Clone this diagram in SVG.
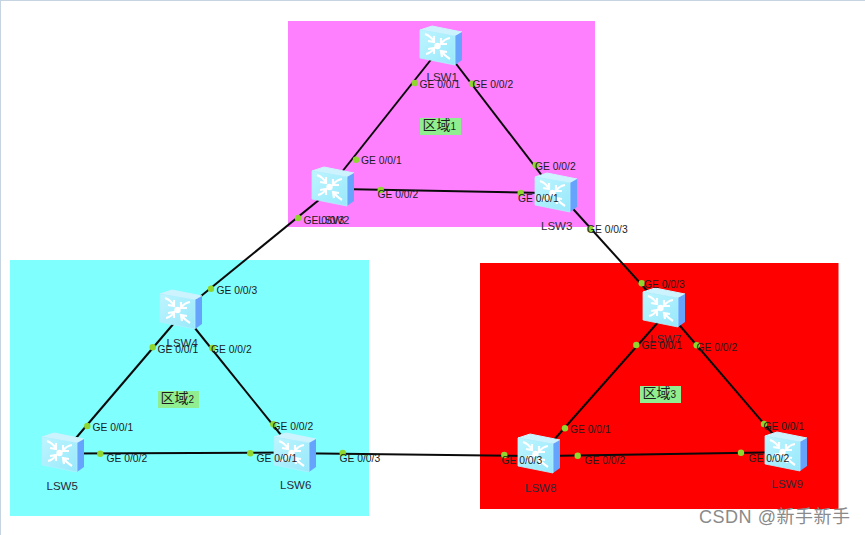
<svg xmlns="http://www.w3.org/2000/svg" width="865" height="535" viewBox="0 0 865 535">
<style>
.bg{stroke:none}
.ln{stroke:#0a0a0a;stroke-width:2;fill:none}
.pt{fill:#8fd62e;stroke:none}
text{font-family:"Liberation Sans",Arial,"Noto Sans CJK SC",sans-serif;fill:#1c1c1c}
.pl{font-size:10.300px}
.nm{font-size:11.500px;fill:#2a2a3a}
.tag{fill:#90ee90}
.zt{font-size:14px}
.zt tspan{font-size:10px}
.wm{font-size:18px;fill:#8a8a8a;font-family:"Liberation Sans","Noto Sans CJK SC",sans-serif}
</style>
<defs>
<linearGradient id="fr" x1="0" y1="0" x2="1" y2="1"><stop offset="0" stop-color="#bdf5ff"/><stop offset="1" stop-color="#98e8fb"/></linearGradient>
<g id="sw">
<path d="M0 4 L12 0 L42 6 L35 10 Z" fill="#cdf3ff" stroke="#cdf3ff" stroke-linejoin="round"/>
<path d="M35 10 L42 6 L42 34 L35 39 Z" fill="#66a3fd"/>
<path d="M0 4 L35 10 L35 39 L0 32 Z" fill="url(#fr)" stroke="#b0f0ff" stroke-width=".8" stroke-linejoin="round"/>
<g stroke="#fff" stroke-width="2.200" fill="none">
<path d="M5 8 Q11 10 14 16 M14 10 L14 16 L8 15"/>
<path d="M30 12 Q24 13 21 18 M21 12 L21 18 L27 18"/>
<path d="M6 28 Q11 27 14 22 M8 23 L14 22 L14 28"/>
<path d="M30 33 Q25 30 21 25 M27 26 L21 25 L22 31"/>
</g>
<circle cx="17.500" cy="20" r="3.200" fill="#fff"/>
</g>
</defs>
<rect class="bg" width="865" height="535" fill="#fff"/>
<path d="M0 .5H865M.5 0V535" stroke="#c6d3e0" stroke-width="1" fill="none"/>
<rect class="bg" x="288" y="21" width="307" height="206" fill="#ff80ff"/>
<rect class="bg" x="10" y="260" width="359" height="256" fill="#80ffff"/>
<rect class="bg" x="480" y="263" width="358.500" height="246" fill="#ff0000"/>
<g id="connectors">
<path class="ln" d="M437 52L330 187"/>
<path class="ln" d="M447 52L553 190"/>
<path class="ln" d="M340 189L545 193"/>
<path class="ln" d="M325 195L190 305"/>
<path class="ln" d="M565 200L660 305"/>
<path class="ln" d="M175 322L70 445"/>
<path class="ln" d="M190 322L285 440"/>
<path class="ln" d="M70 453.500L285 452.500"/>
<path class="ln" d="M300 453.300L530 456"/>
<path class="ln" d="M660 320L545 450"/>
<path class="ln" d="M675 320L778 440"/>
<path class="ln" d="M545 456L775 452.300"/>
</g>
<g id="zone1-label"><rect class="tag" x="420" y="118" width="41" height="17"/><text class="zt" x="422.500" y="130">区域<tspan>1</tspan></text></g>
<g id="zone2-label"><rect class="tag" x="158" y="391" width="41" height="17"/><text class="zt" x="160.500" y="403">区域<tspan>2</tspan></text></g>
<g id="zone3-label"><rect class="tag" x="640" y="386" width="41" height="17"/><text class="zt" x="642.500" y="398">区域<tspan>3</tspan></text></g>
<g id="LSW1"><use href="#sw" x="420" y="26"/><text class="nm" x="426.500" y="81">LSW1</text></g>
<g id="LSW2"><use href="#sw" x="312" y="167"/><text class="nm" x="318" y="223.500">LSW2</text></g>
<g id="LSW3"><use href="#sw" x="535" y="173"/><text class="nm" x="541" y="230">LSW3</text></g>
<g id="LSW4"><use href="#sw" x="160" y="290"/><text class="nm" x="166.500" y="347">LSW4</text></g>
<g id="LSW5"><use href="#sw" x="42" y="433"/><text class="nm" x="46.500" y="490">LSW5</text></g>
<g id="LSW6"><use href="#sw" x="274" y="433"/><text class="nm" x="280" y="489">LSW6</text></g>
<g id="LSW7"><use href="#sw" x="643" y="288"/><text class="nm" x="650" y="343">LSW7</text></g>
<g id="LSW8"><use href="#sw" x="518" y="434"/><text class="nm" x="525" y="492">LSW8</text></g>
<g id="LSW9"><use href="#sw" x="765" y="432"/><text class="nm" x="771.500" y="488">LSW9</text></g>
<g id="ports">
<circle class="pt" cx="414.700" cy="83" r="3.200"/><circle class="pt" cx="472" cy="83.700" r="3.200"/>
<circle class="pt" cx="356" cy="159.700" r="3.200"/><circle class="pt" cx="535.700" cy="165.300" r="3.200"/>
<circle class="pt" cx="380.700" cy="190" r="3.200"/><circle class="pt" cx="520.700" cy="193" r="3.200"/>
<circle class="pt" cx="298" cy="218" r="3.200"/><circle class="pt" cx="211" cy="288.700" r="3.200"/>
<circle class="pt" cx="590" cy="229" r="3.200"/><circle class="pt" cx="641.700" cy="283.300" r="3.200"/>
<circle class="pt" cx="152.700" cy="347.300" r="3.200"/><circle class="pt" cx="87.300" cy="426" r="3.200"/>
<circle class="pt" cx="212.300" cy="348" r="3.200"/><circle class="pt" cx="273.300" cy="424.300" r="3.200"/>
<circle class="pt" cx="100.300" cy="453.700" r="3.200"/><circle class="pt" cx="250.300" cy="453.300" r="3.200"/>
<circle class="pt" cx="342.700" cy="453" r="3.200"/><circle class="pt" cx="504.300" cy="455" r="3.200"/>
<circle class="pt" cx="636.300" cy="345" r="3.200"/><circle class="pt" cx="565" cy="428.300" r="3.200"/>
<circle class="pt" cx="696.700" cy="345.300" r="3.200"/><circle class="pt" cx="764" cy="424" r="3.200"/>
<circle class="pt" cx="577.700" cy="455.700" r="3.200"/><circle class="pt" cx="741" cy="452.700" r="3.200"/>
</g>
<g id="port-labels">
<text class="pl" x="419.500" y="88">GE 0/0/1</text><text class="pl" x="472.500" y="88">GE 0/0/2</text>
<text class="pl" x="361" y="164">GE 0/0/1</text><text class="pl" x="535" y="169.500">GE 0/0/2</text>
<text class="pl" x="377.500" y="198">GE 0/0/2</text><text class="pl" x="518" y="202">GE 0/0/1</text>
<text class="pl" x="303.500" y="223.500">GE 0/0/3</text><text class="pl" x="587" y="233">GE 0/0/3</text>
<text class="pl" x="216.500" y="293.500">GE 0/0/3</text><text class="pl" x="157.500" y="352.500">GE 0/0/1</text>
<text class="pl" x="211" y="352.500">GE 0/0/2</text><text class="pl" x="92.500" y="431">GE 0/0/1</text>
<text class="pl" x="272.500" y="429.500">GE 0/0/2</text><text class="pl" x="106.500" y="462">GE 0/0/2</text>
<text class="pl" x="256.500" y="462">GE 0/0/1</text><text class="pl" x="339.500" y="462">GE 0/0/3</text>
<text class="pl" x="644" y="288">GE 0/0/3</text><text class="pl" x="641.500" y="349">GE 0/0/1</text>
<text class="pl" x="696.500" y="350.500">GE 0/0/2</text><text class="pl" x="570" y="433">GE 0/0/1</text>
<text class="pl" x="763.500" y="429.500">GE 0/0/1</text><text class="pl" x="501.500" y="464">GE 0/0/3</text>
<text class="pl" x="584.500" y="464">GE 0/0/2</text><text class="pl" x="748.500" y="461.500">GE 0/0/2</text>
</g>
<text class="wm" x="699" y="523" textLength="151">CSDN @新手新手</text>
</svg>
